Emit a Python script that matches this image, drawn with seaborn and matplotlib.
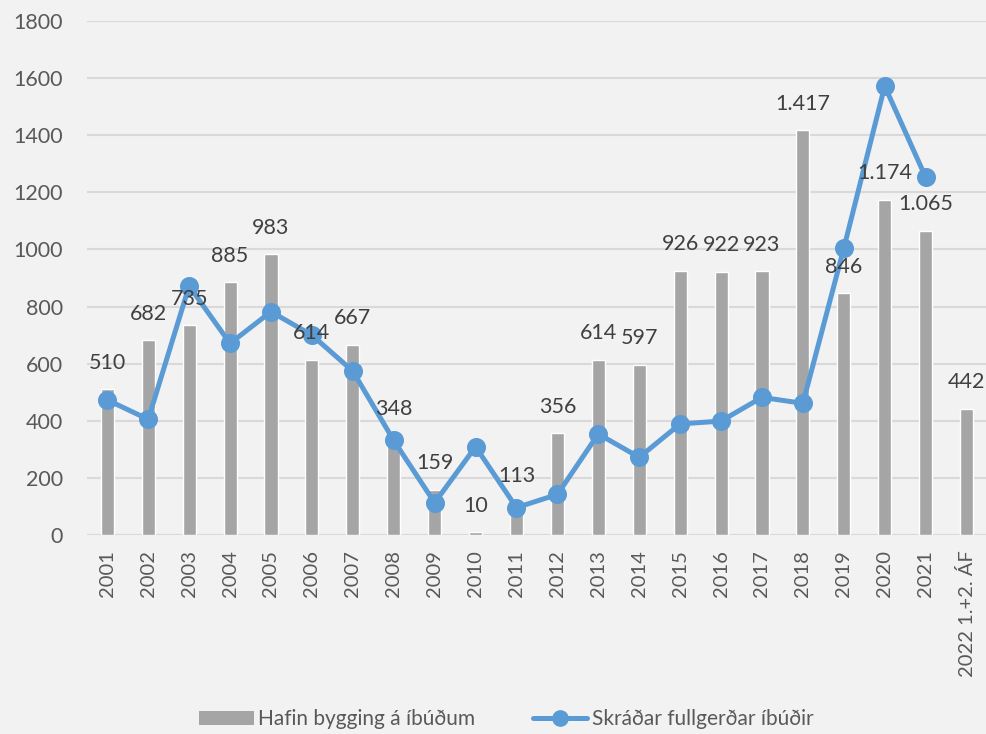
import numpy as np
import pandas as pd
import matplotlib
matplotlib.use("Agg")
import matplotlib.pyplot as plt
from matplotlib.patches import Patch
from matplotlib.lines import Line2D
import seaborn as sns

years = ["2001", "2002", "2003", "2004", "2005", "2006", "2007", "2008", "2009", "2010",
         "2011", "2012", "2013", "2014", "2015", "2016", "2017", "2018", "2019", "2020",
         "2021", "2022 1.+2. ÁF"]
hafin = [510, 682, 735, 885, 983, 614, 667, 348, 159, 10, 113, 356, 614, 597,
         926, 922, 923, 1417, 846, 1174, 1065, 442]
skradar = [473, 405, 872, 671, 782, 700, 574, 331, 113, 309, 96, 142, 354, 272,
           389, 399, 482, 461, 1004, 1572, 1253, np.nan]

bar_name = "Hafin bygging á íbúðum"
line_name = "Skráðar fullgerðar íbúðir"

df = pd.DataFrame({"year": years, "hafin": hafin, "skradar": skradar})

sns.set_style("white")
plt.rcParams["font.family"] = ["Lato", "DejaVu Sans"]
txt = "#595959"
bg = "#f2f2f2"
bar_c = "#a5a5a5"
line_c = "#5b9bd5"

fig = plt.figure(figsize=(9.87, 7.34), dpi=100, facecolor=bg)
ax = fig.add_axes([0.088, 0.2711, 0.912, 0.7003])
ax.set_facecolor(bg)

sns.barplot(data=df, x="year", y="hafin", order=years, color=bar_c, width=0.32,
            saturation=1, ax=ax, zorder=2)
sns.pointplot(data=df[df.skradar.notna()], x="year", y="skradar", order=years,
              color=line_c, errorbar=None, markers="o", markersize=11,
              linewidth=3.6, ax=ax, zorder=3)
for l in ax.lines:
    l.set_clip_on(False)

# data labels above the bars
for i, v in enumerate(hafin):
    lab = f"{v:,}".replace(",", ".")
    ax.annotate(lab, (i, v), xytext=(0, 19), textcoords="offset points",
                ha="center", va="center", fontsize=15.5, color="#404040", zorder=4)

ax.set_ylim(0, 1800)
ax.set_xlim(-0.5, len(years) - 0.5)
ax.set_yticks(range(0, 1801, 200))
ax.yaxis.grid(True, color="#d9d9d9", linewidth=1.5, zorder=0)
ax.set_axisbelow(True)
for s in ax.spines.values():
    s.set_visible(False)
ax.set_xlabel("")
ax.set_ylabel("")
ax.tick_params(axis="y", length=0, pad=17, labelsize=15.5, labelcolor=txt)
ax.tick_params(axis="x", length=0, pad=11, labelsize=14.5, labelcolor=txt)
plt.setp(ax.get_xticklabels(), rotation=90)

handles = [Patch(facecolor=bar_c, edgecolor="none"),
           Line2D([0], [0], color=line_c, lw=3.6, marker="o", markersize=11)]
fig.legend(handles, [bar_name, line_name], loc="center", bbox_to_anchor=(0.513, 0.02),
           ncol=2, frameon=False, fontsize=15, labelcolor=txt, handlelength=2.6,
           handleheight=0.7, columnspacing=2.8, handletextpad=0.2)

fig.savefig("out.png", dpi=100, facecolor=bg)
